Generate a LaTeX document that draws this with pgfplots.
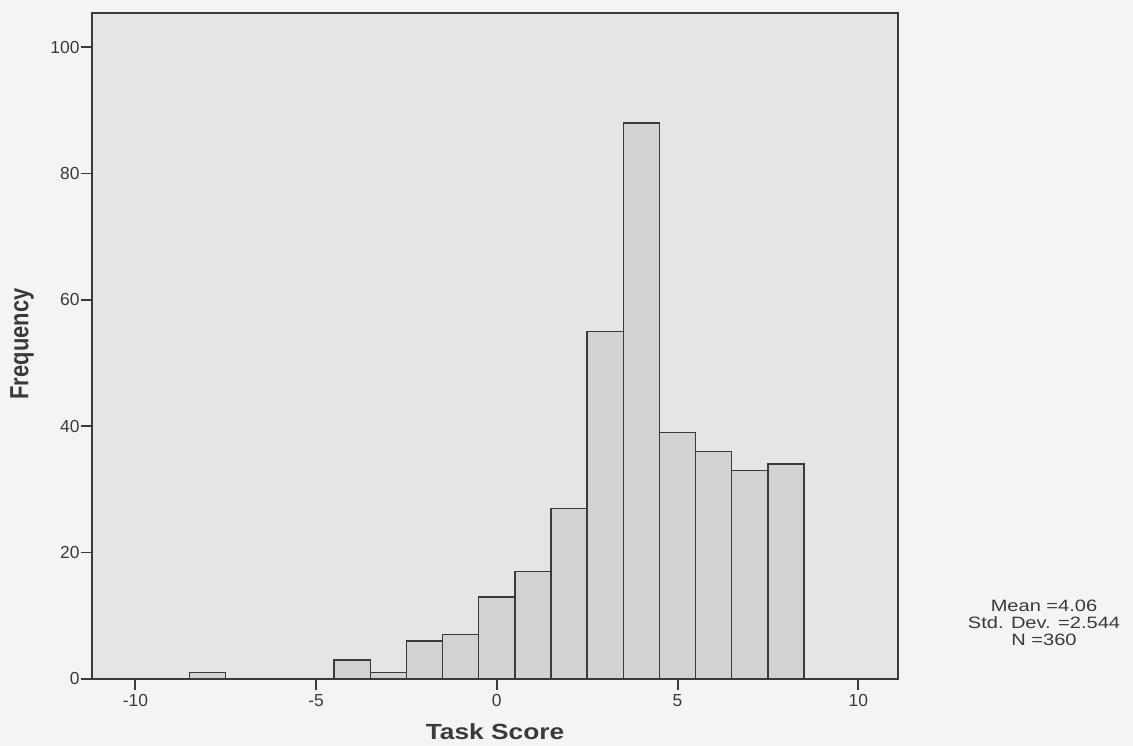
\documentclass[border=0pt]{standalone}
\usepackage{pgfplots}
\pgfplotsset{compat=1.18}
\usepackage{fontspec}
\setmainfont{Liberation Sans}
\definecolor{paper}{HTML}{F4F4F2}
\definecolor{plotbg}{HTML}{E5E5E3}
\definecolor{barfill}{HTML}{D2D2D0}
\definecolor{ink}{HTML}{3A3A3A}

\begin{document}
\begin{tikzpicture}[x=1bp,y=1bp]
\fill[paper] (0,0) rectangle (1133,746);
\useasboundingbox (0,0) rectangle (1133,746);
\begin{axis}[
  at={(92bp,67bp)}, anchor=south west,
  scale only axis, width=806bp, height=666bp,
  xmin=-11.2, xmax=11.1, ymin=0, ymax=105.4,
  axis background/.style={fill=plotbg},
  axis line style={ink, line width=1.5pt},
  xtick={-10,-5,0,5,10}, ytick={0,20,...,100},
  tick align=outside, tick pos=left,
  x tick style={line width=2pt}, y tick style={line width=1.5pt},
  major tick length=11bp,
  tick style={ink},
  tick label style={font=\fontsize{17.5}{19}\selectfont, text=ink},
  /pgf/number format/assume math mode=true,
  xticklabel style={yshift=-1bp},
  yticklabel style={xshift=2bp},
  xlabel={\scalebox{1.2}[1]{\textbf{Task Score}}},
  label style={font=\fontsize{22}{24}\selectfont, text=ink},
  xlabel style={at={(axis description cs:0.5,0)}, anchor=center, yshift=-53bp},
  clip=false,
]
\addplot[ybar, bar width=1, bar shift=0pt, fill=barfill, draw=ink, line width=1.4pt]
  coordinates {
    (-8,1) (-4,3) (-3,1) (-2,6) (-1,7) (0,13) (1,17) (2,27)
    (3,55) (4,88) (5,39) (6,36) (7,33) (8,34)
  };
\end{axis}
% vertical axis title
\node[rotate=90, font=\fontsize{22}{24}\selectfont\bfseries, text=ink] at (22,402)
  {\scalebox{1}[1.2]{Frequency}};
% summary statistics
\node[align=center, font=\fontsize{16.5}{17}\selectfont, text=ink] at (1044,123)
  {\scalebox{1.22}[1]{Mean =4.06}\\\scalebox{1.22}[1]{Std. Dev. =2.544}\\\scalebox{1.22}[1]{N =360}};
\end{tikzpicture}
\end{document}
